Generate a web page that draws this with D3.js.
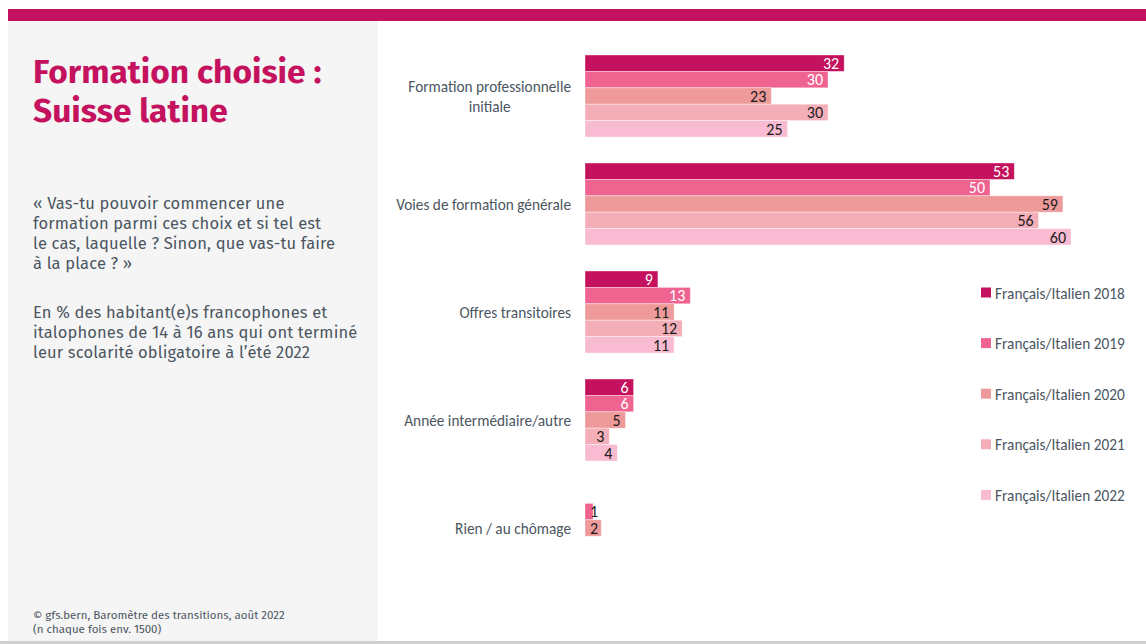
<!DOCTYPE html>
<html>
<head>
<meta charset="utf-8">
<script src="https://cdn.jsdelivr.net/npm/d3@7"></script>
<style>
  html, body { margin: 0; padding: 0; background: #fff; }
  svg { display: block; }
</style>
</head>
<body>
<svg id="chart" width="1146" height="644"></svg>
<script>
// Categories (top to bottom) and yearly series, in percent
const categories = [
  "Formation professionnelle\ninitiale",
  "Voies de formation générale",
  "Offres transitoires",
  "Année intermédiaire/autre",
  "Rien / au chômage"
];
const years = ["2018", "2019", "2020", "2021", "2022"];
const values2018 = [32, 53, 9, 6, null];
const values2019 = [30, 50, 13, 6, 1];
const values2020 = [23, 59, 11, 5, 2];
const values2021 = [30, 56, 12, 3, null];
const values2022 = [25, 60, 11, 4, null];
const seriesNames = years.map(y => "Français/Italien " + y);
const seriesValues = [values2018, values2019, values2020, values2021, values2022];
const colors = ["#C4125E", "#EF6391", "#EE9A9A", "#F4AEB8", "#F8BBD1"];
const labelColors = ["#ffffff", "#ffffff", "#1a1a1a", "#1a1a1a", "#1a1a1a"];

const titleLines = ["Formation choisie :", "Suisse latine"];
const questionLines = [
  "« Vas-tu pouvoir commencer une",
  "formation parmi ces choix et si tel est",
  "le cas, laquelle ? Sinon, que vas-tu faire",
  "à la place ? »"
];
const baseLines = [
  "En % des habitant(e)s francophones et",
  "italophones de 14 à 16 ans qui ont terminé",
  "leur scolarité obligatoire à l’été 2022"
];
const sourceLines = [
  "©  gfs.bern, Baromètre des transitions, août 2022",
  "(n chaque fois env. 1500)"
];

const svg = d3.select("#chart");
const textGrey = "#4B5661";
const sideFont = "'Fira Sans', 'Noto Sans', 'Open Sans', sans-serif";
const chartFont = "Carlito, Calibri, Lato, sans-serif";

// Header band and side panel
svg.append("rect").attr("x", 8).attr("y", 9).attr("width", 1138).attr("height", 12).attr("fill", "#C4125E");
svg.append("rect").attr("x", 8).attr("y", 21).attr("width", 370).attr("height", 620).attr("fill", "#F5F5F5");
svg.append("rect").attr("x", 0).attr("y", 641).attr("width", 1146).attr("height", 3).attr("fill", "#CFCFCF");

// Title
svg.append("g").selectAll("text").data(titleLines).join("text")
  .attr("x", 33).attr("y", (d, i) => 83 + i * 39)
  .attr("font-family", sideFont).attr("font-weight", 700).attr("font-size", 33.5)
  .attr("fill", "#C4125E").text(d => d);

// Question and base description
svg.append("g").selectAll("text").data(questionLines).join("text")
  .attr("x", 33).attr("y", (d, i) => 209 + i * 20)
  .attr("font-family", sideFont).attr("font-size", 16.5).attr("letter-spacing", 0.15)
  .attr("fill", textGrey).text(d => d);
svg.append("g").selectAll("text").data(baseLines).join("text")
  .attr("x", 33).attr("y", (d, i) => 318 + i * 20)
  .attr("font-family", sideFont).attr("font-size", 16.5).attr("letter-spacing", 0.15)
  .attr("fill", textGrey).text(d => d);

// Source
svg.append("g").selectAll("text").data(sourceLines).join("text")
  .attr("x", 33).attr("y", (d, i) => 619 + i * 14)
  .attr("font-family", sideFont).attr("font-size", 11.5).attr("fill", textGrey).text(d => d);

// Scales
const x = d3.scaleLinear().domain([0, 60]).range([585, 1071]);
const y0 = d3.scaleBand().domain(categories).range([55, 569]).paddingInner(26 / 108).paddingOuter(0);
const y1 = d3.scaleBand().domain(years).range([0, y0.bandwidth()]);

// Bars
const groups = svg.append("g").selectAll("g").data(categories).join("g")
  .attr("transform", d => `translate(0,${y0(d)})`);

groups.each(function(cat, ci) {
  const rows = years.map((yr, si) => ({ yr, si, v: seriesValues[si][ci] })).filter(r => r.v != null);
  const g = d3.select(this);
  g.selectAll("rect").data(rows).join("rect")
    .attr("x", x(0)).attr("y", r => y1(r.yr))
    .attr("width", r => x(r.v) - x(0)).attr("height", y1.bandwidth())
    .attr("fill", r => colors[r.si])
    .attr("stroke", "#ffffff").attr("stroke-opacity", 0.45).attr("stroke-width", 0.8);
  g.selectAll("text").data(rows).join("text")
    .attr("x", r => Math.max(x(r.v) - 5, x(0) + 13))
    .attr("y", r => y1(r.yr) + y1.bandwidth() / 2)
    .attr("dy", "0.36em").attr("text-anchor", "end")
    .attr("font-family", chartFont).attr("font-size", 16)
    .attr("fill", r => (x(r.v) - x(0) < 20 ? "#1a1a1a" : labelColors[r.si]))
    .text(r => r.v);
});

// Category labels: block right-aligned, lines centred within the block
const catG = svg.append("g");
categories.forEach(cat => {
  const lines = cat.split("\n");
  const cy = y0(cat) + y0.bandwidth() / 2;
  const t = catG.append("text")
    .attr("font-family", chartFont).attr("font-size", 15.3).attr("fill", textGrey)
    .attr("text-anchor", "middle");
  const spans = lines.map((ln, i) => t.append("tspan").text(ln));
  const widths = spans.map(s => s.node().getComputedTextLength());
  const maxW = d3.max(widths);
  const cx = 571 - maxW / 2;
  const lh = 20;
  spans.forEach((s, i) => s.attr("x", cx).attr("y", cy + (i - (lines.length - 1) / 2) * lh).attr("dy", "0.36em"));
});

// Legend
const leg = svg.append("g").selectAll("g").data(seriesNames).join("g")
  .attr("transform", (d, i) => `translate(981,${293 + i * 50.6})`);
leg.append("rect").attr("x", 0).attr("y", -5.5).attr("width", 10).attr("height", 10)
  .attr("fill", (d, i) => colors[i]);
leg.append("text").attr("x", 14).attr("y", 0).attr("dy", "0.36em")
  .attr("font-family", chartFont).attr("font-size", 15.3).attr("fill", textGrey).text(d => d);
</script>
</body>
</html>
